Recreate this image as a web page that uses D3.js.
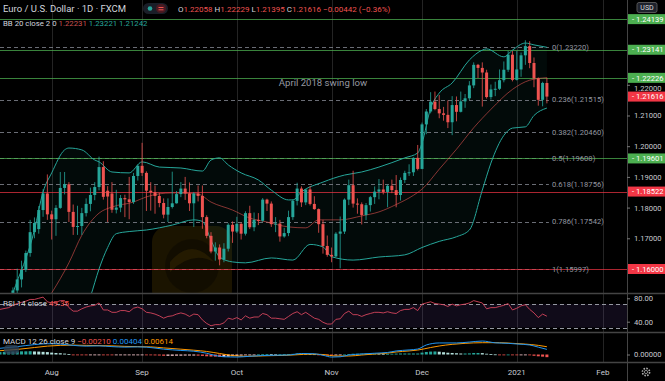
<!DOCTYPE html>
<html><head><meta charset="utf-8">
<script src="https://cdn.jsdelivr.net/npm/d3@7"></script>
<style>html,body{margin:0;padding:0;background:#000;overflow:hidden}svg{display:block}text{font-family:Roboto,"Noto Sans",sans-serif}</style>
</head><body><svg id="c" width="665" height="381"></svg>
<script>
// ================= DATA =================
// Daily EUR/USD (FXCM) candles, first bar 2020-07-21, consecutive trading days
const firstBarDate = "2020-07-21";
const opens  = [1.1444,1.1530,1.1566,1.1597,1.1652,1.1720,1.1730,1.1792,1.1846,
 1.1778,1.1762,1.1799,1.1864,1.1876,1.1786,1.1737,1.1740,1.1782,1.1812,1.1841,1.1867,1.1932,1.1855,1.1846,1.1793,1.1800,1.1831,1.1827,1.1818,1.1903,
 1.1936,1.1913,1.1855,1.1850,1.1838,1.1815,1.1777,1.1802,1.1814,1.1844,1.1862,1.1846,1.1814,1.1846,1.1838,1.1769,1.1708,1.1657,1.1670,1.1631,1.1666,1.1744,
 1.1722,1.1747,1.1715,1.1782,1.1736,1.1760,1.1757,1.1826,1.1813,1.1746,1.1748,1.1706,1.1717,1.1769,1.1822,1.1862,1.1817,1.1859,1.1812,1.1795,1.1746,1.1675,
 1.1646,1.1641,1.1715,1.1722,1.1826,1.1873,1.1813,1.1811,1.1776,1.1808,1.1834,1.1852,1.1859,1.1851,1.1871,1.1857,1.1841,1.1890,1.1913,1.1915,1.1962,
 1.1926,1.2071,1.2113,1.2145,1.2121,1.2107,1.2102,1.2078,1.2134,1.2112,1.2146,1.2156,1.2198,1.2265,1.2255,1.2240,1.2160,1.2185,1.2187,1.2215,1.2249,1.2298,
 1.2216,1.2250,1.2296,1.2326,1.2271,1.2221,1.2151,1.22058];
const highs  = [1.1540,1.1601,1.1627,1.1660,1.1760,1.1768,1.1805,1.1860,1.1908,
 1.1790,1.1808,1.1916,1.1916,1.1883,1.1810,1.1806,1.1799,1.1830,1.1865,1.1883,1.1966,1.1951,1.1870,1.1883,1.1858,1.1841,1.1842,1.1900,1.1913,1.1940,
 1.2011,1.1918,1.1883,1.1872,1.1848,1.1830,1.1830,1.1917,1.1854,1.1883,1.1900,1.1882,1.1851,1.1872,1.1872,1.1775,1.1720,1.1687,1.1680,1.1684,1.1749,1.1755,
 1.1770,1.1751,1.1788,1.1806,1.1784,1.1782,1.1831,1.1829,1.1820,1.1769,1.1760,1.1734,1.1790,1.1827,1.1881,1.1869,1.1860,1.1870,1.1837,1.1797,1.1760,1.1709,
 1.1670,1.1720,1.1771,1.1830,1.1891,1.1920,1.1830,1.1817,1.1815,1.1838,1.1869,1.1893,1.1891,1.1875,1.1891,1.1906,1.1898,1.1920,1.1941,1.1964,1.2004,
 1.2077,1.2121,1.2176,1.2178,1.2167,1.2128,1.2149,1.2163,1.2162,1.2178,1.2170,1.2212,1.2273,1.2268,1.2273,1.2249,1.2201,1.2210,1.2250,1.2276,1.2310,1.2310,
 1.2310,1.2305,1.2345,1.2342,1.2289,1.2224,1.2210,1.22229];
const lows   = [1.1428,1.1510,1.1540,1.1590,1.1640,1.1700,1.1715,1.1770,1.1760,
 1.1696,1.1708,1.1796,1.1843,1.1753,1.1711,1.1711,1.1711,1.1771,1.1788,1.1824,1.1856,1.1826,1.1753,1.1783,1.1781,1.1785,1.1769,1.1762,1.1812,1.1888,
 1.1903,1.1789,1.1790,1.1780,1.1801,1.1765,1.1753,1.1797,1.1813,1.1834,1.1825,1.1789,1.1737,1.1820,1.1731,1.1700,1.1651,1.1627,1.1612,1.1622,1.1657,1.1685,
 1.1717,1.1696,1.1709,1.1730,1.1723,1.1743,1.1754,1.1789,1.1737,1.1720,1.1689,1.1702,1.1707,1.1760,1.1807,1.1802,1.1808,1.1807,1.1793,1.1718,1.1650,1.1640,
 1.1622,1.1639,1.1602,1.1714,1.1808,1.1800,1.1780,1.1745,1.1759,1.1787,1.1812,1.1827,1.1843,1.1801,1.1847,1.1801,1.1823,1.1880,1.1903,1.1903,1.1921,
 1.1925,1.2039,1.2107,1.2117,1.2091,1.2083,1.2059,1.2036,1.2081,1.2110,1.2125,1.2150,1.2189,1.2222,1.2129,1.2155,1.2152,1.2163,1.2183,1.2208,1.2242,1.2211,
 1.2214,1.2226,1.2265,1.2254,1.2192,1.2132,1.2130,1.21395];
const closes = [1.1530,1.1566,1.1597,1.1652,1.1720,1.1750,1.1792,1.1846,1.1778,
 1.1762,1.1799,1.1864,1.1876,1.1786,1.1737,1.1740,1.1782,1.1812,1.1841,1.1867,1.1932,1.1835,1.1836,1.1793,1.1800,1.1831,1.1827,1.1818,1.1903,1.1936,
 1.1913,1.1855,1.1850,1.1838,1.1815,1.1777,1.1802,1.1814,1.1844,1.1862,1.1846,1.1814,1.1846,1.1838,1.1769,1.1708,1.1657,1.1670,1.1631,1.1666,1.1744,1.1722,
 1.1747,1.1715,1.1782,1.1736,1.1760,1.1757,1.1826,1.1813,1.1746,1.1748,1.1706,1.1717,1.1769,1.1822,1.1862,1.1817,1.1859,1.1812,1.1795,1.1746,1.1675,1.1646,
 1.1641,1.1715,1.1722,1.1826,1.1873,1.1813,1.1811,1.1776,1.1808,1.1834,1.1852,1.1859,1.1851,1.1871,1.1857,1.1841,1.1890,1.1913,1.1915,1.1962,1.1926,
 1.2071,1.2113,1.2145,1.2121,1.2107,1.2102,1.2078,1.2134,1.2112,1.2146,1.2156,1.2198,1.2265,1.2255,1.2240,1.2160,1.2185,1.2187,1.2215,1.2249,1.2298,1.2216,
 1.2250,1.2296,1.2326,1.2271,1.2221,1.2151,1.2206,1.21616];

// Indicator readings: [bar number counted from 2020-08-03 (=0), value]
const bbUpper = [[-12,1.1401],[-9,1.1522],[-4,1.1727],[-2,1.1851],[0,1.1913],[3,1.1988],[4,1.1994],[7,1.1988],[10,1.1955],[11,1.1949],[14,1.1916],[18,1.1913],[21,1.1949],[25,1.1932],[30,1.1929],[35,1.1919],[37,1.1955],[39,1.1962],[41,1.1939],[44,1.1913],[48,1.1890],[51,1.1857],[55,1.1825],[56,1.1825],[58,1.1851],[63,1.1883],[68,1.1906],[72,1.1916],[76,1.1932],[82,1.1962],[85,1.1978],[86,1.2010],[88,1.2124],[90,1.2173],[93,1.2206],[97,1.2281],[100,1.2313],[101,1.2317],[105,1.2291],[107,1.2313],[110,1.2336],[112,1.2330],[115,1.23221]];
const bbBasis = [[-12,1.1330],[-4,1.1440],[0,1.1522],[4,1.1620],[7,1.1710],[11,1.1782],[14,1.1802],[19,1.1818],[22,1.1835],[28,1.1848],[34,1.1844],[37,1.1818],[42,1.1792],[46,1.1766],[50,1.1753],[55,1.1737],[59,1.1734],[62,1.1760],[67,1.1760],[72,1.1773],[76,1.1786],[80,1.1810],[84,1.1840],[86,1.1860],[90,1.1925],[94,1.1990],[98,1.2060],[102,1.2120],[107,1.2185],[111,1.2215],[115,1.22231]];
const bbLower = [[-12,1.1000],[0,1.1200],[5,1.1380],[9,1.1510],[11,1.1600],[13,1.1670],[15,1.1715],[18,1.1722],[22,1.1727],[28,1.1743],[33,1.1760],[35,1.1755],[37,1.1694],[39,1.1639],[42,1.1623],[45,1.1620],[51,1.1636],[56,1.1629],[60,1.1680],[63,1.1672],[65,1.1640],[70,1.1629],[76,1.1639],[82,1.1646],[86,1.1670],[90,1.1690],[94,1.1705],[97,1.1727],[100,1.1857],[102,1.1945],[105,1.2035],[107,1.2059],[110,1.2063],[112,1.2100],[115,1.21242]];
const rsi = [[-12,61],[-10,64],[-9,68],[-8,71],[-7,73],[-6,75],[-5,78],[-4,78],[-3,80],[-2,82],[-1,74],[0,72],[1,73],[2,76],[3,76],[4,64],[5,58],[6,58],[7,62],[8,65],[9,67],[10,68],[11,72],[12,60],[13,60],[14,56],[15,56],[16,59],[17,59],[18,57],[19,63],[20,65],[21,62],[22,56],[23,55],[24,53],[25,50],[26,46],[27,49],[28,50],[29,53],[30,55],[31,53],[32,49],[33,53],[34,52],[35,43],[36,37],[37,33],[38,35],[39,35],[40,38],[41,46],[42,44],[43,47],[44,43],[45,50],[46,46],[47,48],[48,48],[49,54],[50,52],[51,46],[52,46],[53,45],[54,44],[55,49],[56,54],[57,57],[58,52],[59,56],[60,51],[61,46],[62,44],[63,39],[64,36],[65,36],[66,44],[67,45],[68,54],[69,58],[70,52],[71,52],[72,49],[73,52],[74,54],[75,56],[76,56],[77,55],[78,57],[79,55],[80,54],[81,59],[82,61],[83,61],[84,64],[85,59],[86,70],[87,72],[88,74],[89,71],[90,70],[91,69],[92,66],[93,70],[94,67],[95,69],[96,70],[97,72],[98,76],[99,74],[100,72],[101,62],[102,64],[103,64],[104,66],[105,68],[106,71],[107,60],[108,63],[109,67],[110,69],[111,61],[112,55],[113,47],[114,53],[115,49.35]];
const macdLine = [[-12,0.0049],[-8,0.0062],[-4,0.0078],[-1,0.0085],[2,0.0082],[5,0.0072],[8,0.0066],[11,0.0068],[14,0.0062],[17,0.0058],[20,0.0060],[22,0.0058],[26,0.0042],[30,0.0032],[33,0.0026],[36,0.0010],[38,-0.0008],[40,-0.0018],[43,-0.0020],[46,-0.0014],[49,-0.0008],[52,-0.0006],[55,-0.0004],[58,0.0008],[61,0.0006],[63,-0.0006],[65,-0.0020],[67,-0.0018],[69,-0.0004],[72,0.0004],[75,0.0010],[78,0.0016],[80,0.0028],[83,0.0036],[85,0.0043],[87,0.0075],[90,0.0091],[94,0.0091],[97,0.0098],[100,0.0106],[103,0.0092],[106,0.0088],[108,0.0083],[111,0.0075],[113,0.0058],[115,0.00404]];
const macdSignal = [[-12,0.0030],[-8,0.0040],[-4,0.0055],[-1,0.0066],[2,0.0072],[5,0.0074],[8,0.0072],[11,0.0070],[14,0.0068],[17,0.0064],[20,0.0062],[23,0.0060],[26,0.0052],[30,0.0042],[33,0.0034],[36,0.0024],[39,0.0008],[42,-0.0008],[45,-0.0014],[48,-0.0012],[51,-0.0009],[54,-0.0007],[57,-0.0002],[60,0.0003],[63,0.0000],[66,-0.0012],[69,-0.0012],[72,-0.0004],[75,0.0004],[78,0.0011],[80,0.0020],[83,0.0028],[85,0.0035],[88,0.0055],[90,0.0067],[93,0.0080],[96,0.0088],[100,0.0093],[104,0.0093],[107,0.0088],[110,0.0082],[113,0.0072],[115,0.00614]];
// MACD histogram, one value per bar from bar -12 to bar 115
const macdHistStart = -12;
const macdHist = [0.0019,0.0021,0.0022,0.0023,0.0024,0.0025,0.0025,0.0026,0.0024,0.0023,0.0021,0.0019,
 0.0015,0.0012,0.0010,0.0007,0.0004,-0.0002,-0.0004,-0.0005,-0.0006,-0.0005,-0.0004,-0.0002,-0.0003,-0.0004,-0.0006,-0.0006,-0.0006,-0.0006,-0.0004,-0.0002,-0.0002,
 -0.0002,-0.0003,-0.0005,-0.0007,-0.0008,-0.0010,-0.0010,-0.0010,-0.0009,-0.0009,-0.0008,-0.0008,-0.0008,-0.0009,-0.0011,-0.0014,-0.0016,-0.0017,-0.0019,-0.0018,-0.0016,-0.0013,
 -0.0011,-0.0008,-0.0005,-0.0003,-0.0001,0.0001,0.0002,0.0003,0.0002,0.0001,0.0001,0.0002,0.0003,0.0005,0.0007,0.0007,0.0006,0.0004,0.0002,-0.0001,-0.0005,-0.0008,
 -0.0009,-0.0007,-0.0004,0.0000,0.0004,0.0006,0.0006,0.0007,0.0007,0.0007,0.0007,0.0006,0.0005,0.0005,0.0006,0.0007,0.0008,0.0008,0.0008,0.0008,0.0008,
 0.0015,0.0020,0.0023,0.0024,0.0022,0.0018,0.0014,0.0012,0.0010,0.0008,0.0008,0.0009,0.0012,0.0012,0.0011,0.0006,0.0003,0.0001,-0.0001,-0.0002,0.0000,-0.0002,
 -0.0004,-0.0003,-0.0002,-0.0006,-0.0010,-0.0014,-0.0017,-0.00210];

const fibRatios = ["0","0.236","0.382","0.5","0.618","0.786","1"];
const fibPrices = [1.23220,1.21515,1.20460,1.19608,1.18756,1.17542,1.15997];
const greenLevels = [1.24139,1.23141,1.22226,1.19601];
const redLevels = [1.18522,1.16000];
const lastPrice = 1.21616;
const priceTicks = [1.16,1.17,1.18,1.19,1.20,1.21,1.22,1.23,1.24];
const rsiTicks = [40,80];
const monthTickDates = ["2020-08-03","2020-09-01","2020-10-01","2020-11-02","2020-12-01","2021-01-04","2021-02-01"];
const monthTickLabels = ["Aug","Sep","Oct","Nov","Dec","2021","Feb"];
const noteText = "April 2018 swing low";

// ================= LAYOUT =================
const W=665,H=381,plotR=627;
const svg=d3.select("#c");
svg.append("rect").attr("width",W).attr("height",H).attr("fill","#000");
const holidays=new Set(["2020-12-25","2021-01-01"]);
const fmt=d3.timeFormat("%Y-%m-%d"), parse=d3.timeParse("%Y-%m-%d");
const calendar=d3.timeDay.range(parse("2020-07-16"),parse("2021-02-06"))
  .filter(d=>d.getDay()%6!==0 && !holidays.has(fmt(d))).map(fmt);
const calIdx=new Map(calendar.map((d,i)=>[d,i]));
const x=d3.scaleLinear().domain([0,145.6]).range([0,plotR]);
const origin=calIdx.get("2020-08-03");
const xb=b=>x(origin+b);
const first=calIdx.get(firstBarDate);

const y=d3.scaleLinear().domain([1.15218,1.24762]).range([293,0]);
const yR=d3.scaleLinear().domain([22.4,89]).range([332,293]);
const yM=d3.scaleLinear().domain([-0.0059,0.01772]).range([362,332]);

const defs=svg.append("defs");
defs.append("clipPath").attr("id","cm").append("rect").attr("x",0).attr("y",0).attr("width",plotR).attr("height",293);
defs.append("clipPath").attr("id","cr").append("rect").attr("x",0).attr("y",293).attr("width",plotR).attr("height",39);
defs.append("clipPath").attr("id","cq").append("rect").attr("x",0).attr("y",332).attr("width",plotR).attr("height",30);

// month grid
svg.append("g").selectAll("line").data(monthTickDates).join("line")
  .attr("x1",d=>Math.round(x(calIdx.get(d)))+0.5).attr("x2",d=>Math.round(x(calIdx.get(d)))+0.5)
  .attr("y1",0).attr("y2",362).attr("stroke","#242424").attr("stroke-width",1);

const gm=svg.append("g").attr("clip-path","url(#cm)");
// watermark
gm.append("rect").attr("x",152).attr("y",226).attr("width",80).attr("height",80).attr("rx",16)
  .attr("fill","#5a4300").attr("opacity",0.3);
gm.append("circle").attr("cx",192).attr("cy",266).attr("r",27).attr("fill","#000").attr("opacity",0.3);
gm.append("path").attr("d","M170,262 Q192,236 214,262 Q192,250 170,272 Z").attr("fill","#5a4300").attr("opacity",0.25);

// BB fill
const pts=a=>a.map(d=>[xb(d[0]),y(d[1])]);
const up=pts(bbUpper), lo=pts(bbLower);
const lineM=d3.line().curve(d3.curveMonotoneX);
const areaPath=lineM(up)+"L"+lineM(lo.slice().reverse()).slice(1)+"Z";
gm.append("path").attr("d",areaPath).attr("fill","#26a69a").attr("opacity",0.06);

// fib dashed lines
const fibEnd=xb(115)+2;
gm.append("g").selectAll("line").data(fibPrices).join("line")
  .attr("x1",0).attr("x2",fibEnd).attr("y1",d=>Math.round(y(d))+0.5).attr("y2",d=>Math.round(y(d))+0.5)
  .attr("stroke","#7d808a").attr("stroke-width",1).attr("stroke-dasharray","4,3").attr("opacity",0.85);
// horizontal levels
gm.append("g").selectAll("line").data(greenLevels).join("line")
  .attr("x1",0).attr("x2",plotR).attr("y1",d=>Math.round(y(d))+0.5).attr("y2",d=>Math.round(y(d))+0.5)
  .attr("stroke","#4caf50").attr("stroke-width",1).attr("opacity",0.75);
gm.append("g").selectAll("line").data(redLevels).join("line")
  .attr("x1",0).attr("x2",plotR).attr("y1",d=>Math.round(y(d))+0.5).attr("y2",d=>Math.round(y(d))+0.5)
  .attr("stroke","#f23645").attr("stroke-width",1).attr("opacity",0.7);

// BB lines
gm.append("path").attr("d",lineM(up)).attr("fill","none").attr("stroke","#26a69a").attr("stroke-width",1);
gm.append("path").attr("d",lineM(lo)).attr("fill","none").attr("stroke","#26a69a").attr("stroke-width",1);
gm.append("path").attr("d",lineM(pts(bbBasis))).attr("fill","none").attr("stroke","#e0524f").attr("stroke-width",1).attr("opacity",0.6);

// candles
const bars=closes.map((c,j)=>({o:opens[j],h:highs[j],l:lows[j],c:c,xi:x(first+j)}));
const gc=gm.append("g");
gc.selectAll("line").data(bars).join("line")
  .attr("x1",d=>d.xi).attr("x2",d=>d.xi).attr("y1",d=>y(d.h)).attr("y2",d=>y(d.l))
  .attr("stroke",d=>d.c>=d.o?"#26a69a":"#ef5350").attr("stroke-width",0.8);
gc.selectAll("rect").data(bars).join("rect")
  .attr("x",d=>d.xi-1.5).attr("width",3)
  .attr("y",d=>y(Math.max(d.o,d.c))).attr("height",d=>Math.max(1,Math.abs(y(d.o)-y(d.c))))
  .attr("fill",d=>d.c>=d.o?"#26a69a":"#ef5350");

// annotation text
svg.append("text").attr("x",xb(63)).attr("y",y(1.2196)).attr("text-anchor","middle")
  .attr("font-size",9.6).attr("fill","#9598a1").text(noteText);
// fib labels
svg.append("g").selectAll("text").data(fibPrices).join("text")
  .attr("x",fibEnd+3).attr("y",d=>y(d)).attr("dy","0.35em").attr("font-size",7.6).attr("fill","#9598a1")
  .text((d,i)=>fibRatios[i]+"("+d3.format(".5f")(d)+")");

// ---- RSI pane ----
const gr=svg.append("g").attr("clip-path","url(#cr)");
gr.append("rect").attr("x",0).attr("width",plotR).attr("y",yR(70)).attr("height",yR(30)-yR(70)).attr("fill","#7e57c2").attr("opacity",0.13);
gr.selectAll("line.d").data([70,30]).join("line").attr("x1",0).attr("x2",plotR)
  .attr("y1",d=>Math.round(yR(d))+0.5).attr("y2",d=>Math.round(yR(d))+0.5)
  .attr("stroke","#9598a1").attr("stroke-dasharray","4,3").attr("stroke-width",1);
gr.append("path").attr("d",d3.line().x(d=>xb(d[0])).y(d=>yR(d[1]))(rsi))
  .attr("fill","none").attr("stroke","#d6455c").attr("stroke-width",0.9);

// ---- MACD pane ----
const gq=svg.append("g").attr("clip-path","url(#cq)");
const hist=macdHist.map((v,k)=>({b:macdHistStart+k,v:v,p:k>0?macdHist[k-1]:v}));
gq.selectAll("rect").data(hist).join("rect")
  .attr("x",d=>xb(d.b)-1.5).attr("width",3)
  .attr("y",d=>Math.min(yM(0),yM(d.v))).attr("height",d=>Math.max(0.8,Math.abs(yM(d.v)-yM(0))))
  .attr("fill",d=>d.v>=0?(d.v>=d.p?"#26a69a":"#b2dfdb"):(d.v<d.p?"#ef5350":"#ffcdd2"));
const lineQ=d3.line().x(d=>xb(d[0])).y(d=>yM(d[1])).curve(d3.curveMonotoneX);
gq.append("path").attr("d",lineQ(macdSignal)).attr("fill","none").attr("stroke","#ff9800").attr("stroke-width",1);
gq.append("path").attr("d",lineQ(macdLine)).attr("fill","none").attr("stroke","#2196f3").attr("stroke-width",1);

// ---- separators ----
[293,332,362].forEach(v=>svg.append("line").attr("x1",0).attr("x2",W).attr("y1",v+0.5).attr("y2",v+0.5).attr("stroke","#444").attr("stroke-width",1.5));
svg.append("line").attr("x1",plotR+0.5).attr("x2",plotR+0.5).attr("y1",0).attr("y2",H).attr("stroke","#444").attr("stroke-width",1);

// ---- price axis (ticks hidden behind level labels are skipped) ----
const boxes=[...greenLevels.map(v=>({v,c:"#4caf50"})),...redLevels.map(v=>({v,c:"#f23645"})),{v:lastPrice,c:"#f23645"}];
const visibleTicks=priceTicks.filter(t=>boxes.every(b=>Math.abs(y(b.v)-y(t))>6.5));
const ax=svg.append("g").attr("transform",`translate(${plotR},0)`)
  .call(d3.axisRight(y).tickValues(visibleTicks).tickFormat(d3.format(".5f")).tickSize(3).tickPadding(4));
ax.select(".domain").remove();
ax.selectAll("line").attr("stroke","#777");
ax.selectAll("text").attr("fill","#c8cad0").attr("font-size",7.6).attr("font-family","Roboto")
  .attr("transform",t=>{ // nudge a label that touches a level box
    let s=0; boxes.forEach(b=>{const d=y(t)-y(b.v); if(Math.abs(d)<10) s=Math.sign(d)*(10-Math.abs(d));}); return `translate(0,${s})`;});
const axr=svg.append("g").attr("transform",`translate(${plotR},0)`)
  .call(d3.axisRight(yR).tickValues(rsiTicks).tickFormat(d3.format(".2f")).tickSize(3).tickPadding(4));
axr.select(".domain").remove(); axr.selectAll("line").attr("stroke","#777");
axr.selectAll("text").attr("fill","#c8cad0").attr("font-size",7.6).attr("font-family","Roboto");
const axq=svg.append("g").attr("transform",`translate(${plotR},0)`)
  .call(d3.axisRight(yM).tickValues([0]).tickFormat(d3.format(".5f")).tickSize(3).tickPadding(4));
axq.select(".domain").remove(); axq.selectAll("line").attr("stroke","#777");
axq.selectAll("text").attr("fill","#c8cad0").attr("font-size",7.6).attr("font-family","Roboto");

// level labels
const gb=svg.append("g");
gb.selectAll("rect").data(boxes).join("rect").attr("x",plotR+1).attr("width",W-plotR-1)
  .attr("y",d=>y(d.v)-5).attr("height",10).attr("fill",d=>d.c);
gb.selectAll("text").data(boxes).join("text").attr("x",plotR+5).attr("y",d=>y(d.v)).attr("dy","0.35em")
  .attr("font-size",7.6).attr("fill","#fff").text(d=>"- "+d3.format(".5f")(d.v));
// USD
svg.append("rect").attr("x",637).attr("y",2.5).attr("width",20).attr("height",10).attr("rx",2).attr("fill","#1e222d").attr("stroke","#555");
svg.append("text").attr("x",647).attr("y",7.5).attr("dy","0.35em").attr("text-anchor","middle").attr("font-size",7).attr("fill","#ddd").text("USD");

// ---- time axis ----
svg.append("g").selectAll("text").data(monthTickDates).join("text")
  .attr("x",d=>x(calIdx.get(d))).attr("y",372).attr("dy","0.35em").attr("text-anchor","middle")
  .attr("font-size",8).attr("fill","#c8cad0").text((d,i)=>monthTickLabels[i]);
// gear
svg.append("circle").attr("cx",646).attr("cy",372).attr("r",3.6).attr("fill","none").attr("stroke","#aaa").attr("stroke-width",1.6).attr("stroke-dasharray","1.6,1.2");
svg.append("circle").attr("cx",646).attr("cy",372).attr("r",1.6).attr("fill","none").attr("stroke","#aaa").attr("stroke-width",0.8);

// ---- header ----
const fw="#d1d4dc", red="#ef5350";
svg.append("text").attr("x",3).attr("y",12).attr("font-size",9.5).attr("fill",fw).text("Euro / U.S. Dollar · 1D · FXCM");
svg.append("rect").attr("x",143).attr("y",3).attr("width",25).attr("height",11).attr("rx",5.5).attr("fill","#1a1e28");
svg.append("circle").attr("cx",150).attr("cy",8.5).attr("r",2.3).attr("fill","#26a69a");
svg.append("rect").attr("x",156).attr("y",4).attr("width",10).attr("height",9).attr("rx",4.5).attr("fill","#4a1a22");
svg.append("path").attr("d","M158.5,7.5h5M158.5,9.8h5").attr("stroke",red).attr("stroke-width",1);
const ohlc=svg.append("text").attr("x",178).attr("y",12).attr("font-size",8);
[["O","1.22058 "],["H","1.22229 "],["L","1.21395 "],["C","1.21616 "],["","−0.00442 (−0.36%)"]].forEach(p=>{
  ohlc.append("tspan").attr("fill",fw).text(p[0]); ohlc.append("tspan").attr("fill",red).text(p[1]);});
const bbt=svg.append("text").attr("x",3).attr("y",26).attr("font-size",7.8);
bbt.append("tspan").attr("fill",fw).text("BB 20 close 2 0  ");
bbt.append("tspan").attr("fill","#c9504f").text("1.22231  ");
bbt.append("tspan").attr("fill","#26a69a").text("1.23221  ");
bbt.append("tspan").attr("fill","#26a69a").text("1.21242");
const rt=svg.append("text").attr("x",3).attr("y",306).attr("font-size",8);
rt.append("tspan").attr("fill",fw).text("RSI 14 close  ");
rt.append("tspan").attr("fill",red).text("49.35");
svg.append("rect").attr("x",4).attr("y",345).attr("width",15).attr("height",9).attr("rx",4).attr("fill","#2c4054").attr("opacity",0.8);
const mt=svg.append("text").attr("x",3).attr("y",344).attr("font-size",8);
mt.append("tspan").attr("fill",fw).text("MACD 12 26 close 9  ");
mt.append("tspan").attr("fill",red).text("−0.00210 ");
mt.append("tspan").attr("fill","#2196f3").text("0.00404 ");
mt.append("tspan").attr("fill","#ff9800").text("0.00614");
</script></body></html>
